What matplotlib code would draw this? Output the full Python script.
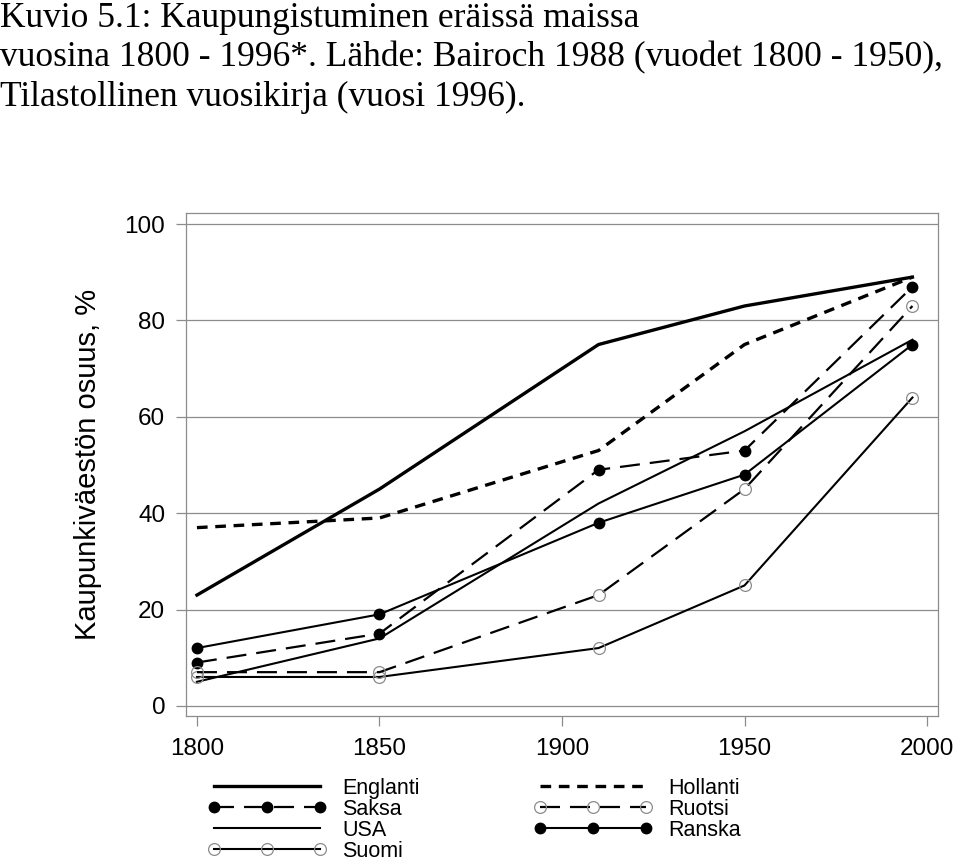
import matplotlib.pyplot as plt

years = [1800, 1850, 1910, 1950, 1996]

englanti = [23, 45, 75, 83, 89]
hollanti = [37, 39, 53, 75, 89]
saksa = [9, 15, 49, 53, 87]
ruotsi = [7, 7, 23, 45, 83]
usa = [5, 14, 42, 57, 76]
ranska = [12, 19, 38, 48, 75]
suomi = [6, 6, 12, 25, 64]

title_lines = [
    "Kuvio 5.1: Kaupungistuminen eräissä maissa",
    "vuosina 1800 - 1996*. Lähde: Bairoch 1988 (vuodet 1800 - 1950),",
    "Tilastollinen vuosikirja (vuosi 1996).",
]
ylabel = "Kaupunkiväestön osuus, %"
xticks = [1800, 1850, 1900, 1950, 2000]
yticks = [0, 20, 40, 60, 80, 100]

plt.rcParams["font.family"] = ["Liberation Sans", "DejaVu Sans"]

fig = plt.figure(figsize=(9.6, 8.61), dpi=100)
ax = fig.add_axes([186 / 960, 1 - 716 / 861, 752 / 960, 503 / 861])

grey = "#8c8c8c"
long_dash = (0, (9, 4.5))
short_dash = (0, (3.2, 2.3))

ax.plot(years, englanti, color="black", lw=2.4, label="Englanti")
ax.plot(years, saksa, color="black", lw=1.6, ls=long_dash,
        marker="o", ms=7.5, mfc="black", mec="black", label="Saksa")
ax.plot(years, usa, color="black", lw=1.5, label="USA")
ax.plot(years, suomi, color="black", lw=1.5,
        marker="o", ms=8.5, mfc="none", mec=grey, mew=0.9, label="Suomi")
ax.plot(years, hollanti, color="black", lw=2.4, ls=short_dash, label="Hollanti")
ax.plot(years, ruotsi, color="black", lw=1.6, ls=long_dash,
        marker="o", ms=8.5, mfc="none", mec=grey, mew=0.9, label="Ruotsi")
ax.plot(years, ranska, color="black", lw=1.5,
        marker="o", ms=7.5, mfc="black", mec="black", label="Ranska")

ax.set_xlim(1797, 2003)
ax.set_ylim(-2.1, 102.3)
ax.set_xticks(xticks)
ax.set_yticks(yticks)
ax.grid(axis="y", color=grey, lw=0.9)
ax.set_axisbelow(True)
for sp in ax.spines.values():
    sp.set_color(grey)
    sp.set_linewidth(0.9)
ax.tick_params(axis="both", color=grey, width=0.9, length=7, labelsize=17.5)
ax.tick_params(axis="x", pad=9)
ax.tick_params(axis="y", pad=8)
ax.set_ylabel(ylabel, fontsize=21, labelpad=16)

for i, line in enumerate(title_lines):
    fig.text(0.0, 1 - (2 + i * 39.5) / 861, line, family="Liberation Serif",
             fontsize=25.5, va="top", ha="left")

fig.legend(loc="upper left", bbox_to_anchor=(197 / 960, 1 - 767 / 861),
           ncol=2, frameon=False, fontsize=15.5, numpoints=3,
           handlelength=5.5, handletextpad=0.75, columnspacing=5.3,
           labelspacing=0.0, borderpad=0)

fig.savefig("out.png", dpi=100)
